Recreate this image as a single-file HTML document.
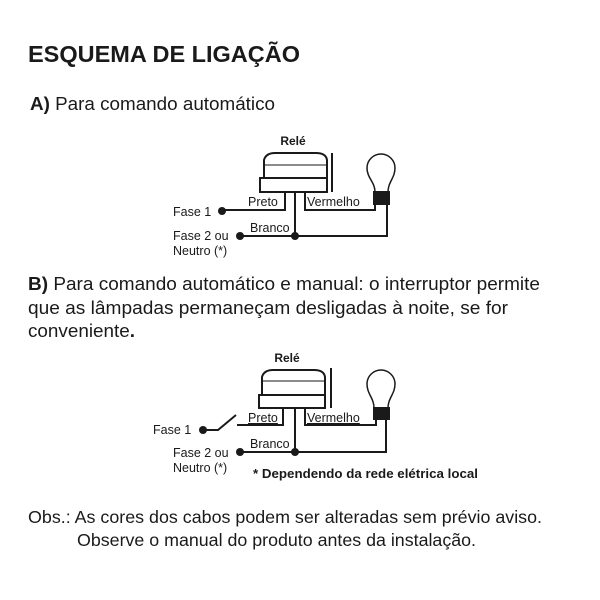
<!DOCTYPE html>
<html><head><meta charset="utf-8"><style>
html,body{margin:0;padding:0;background:#fff;width:600px;height:600px;overflow:hidden}
svg{display:block}
text{font-family:"Liberation Sans",sans-serif;fill:#1a1a1a}
</style></head><body>
<svg width="600" height="600" viewBox="0 0 600 600" xmlns="http://www.w3.org/2000/svg">
<text x="28" y="62" font-size="23.5" font-weight="bold" textLength="272" lengthAdjust="spacingAndGlyphs">ESQUEMA DE LIGAÇÃO</text>
<text x="30" y="110" font-size="18.5" textLength="245" lengthAdjust="spacingAndGlyphs"><tspan font-weight="bold">A)</tspan> Para comando automático</text>

<!-- Diagram A -->
<g stroke="#1a1a1a" stroke-width="2" fill="none">
  <path d="M264 178 L264 160 Q266 153 275 153 L316 153 Q326 153 327 160 L327 178" fill="#fff"/>
  <line x1="265" y1="165" x2="326" y2="165" stroke-width="1"/>
  <rect x="260" y="178" width="67" height="14" fill="#fff"/>
  <line x1="332" y1="153" x2="332" y2="192"/>
  <path d="M285 192 L285 210 L222 210"/>
  <line x1="295" y1="192" x2="295" y2="236"/>
  <path d="M305 192 L305 210 L375 210 L375 204"/>
  <path d="M387 204 L387 236 L240 236"/>
  <path d="M375 192 C375 182 367 178 367 168 A14 14 0 1 1 395 168 C395 178 388 182 388 192" stroke-width="1.5"/>
</g>
<rect x="373" y="191" width="17" height="14" fill="#1a1a1a"/>
<circle cx="222" cy="211" r="4" fill="#1a1a1a"/>
<circle cx="240" cy="236" r="4" fill="#1a1a1a"/>
<circle cx="295" cy="236" r="4" fill="#1a1a1a"/>
<text x="293" y="145" font-size="12" font-weight="bold" text-anchor="middle">Relé</text>
<text x="173" y="216" font-size="12.5">Fase 1</text>
<text x="173" y="240" font-size="12.5">Fase 2 ou</text>
<text x="173" y="255" font-size="12.5">Neutro (*)</text>
<text x="248" y="206" font-size="12.5">Preto</text>
<text x="307" y="206" font-size="12.5">Vermelho</text>
<text x="250" y="232" font-size="12.5">Branco</text>

<text x="28" y="290" font-size="18.5" textLength="512" lengthAdjust="spacingAndGlyphs"><tspan font-weight="bold">B)</tspan> Para comando automático e manual: o interruptor permite</text>
<text x="28" y="314" font-size="18.5" textLength="480" lengthAdjust="spacingAndGlyphs">que as lâmpadas permaneçam desligadas à noite, se for</text>
<text x="28" y="337" font-size="18.5" textLength="107" lengthAdjust="spacingAndGlyphs">conveniente<tspan font-weight="bold">.</tspan></text>

<!-- Diagram B -->
<g stroke="#1a1a1a" stroke-width="2" fill="none">
  <path d="M262 395 L262 377 Q264 370 273 370 L314 370 Q324 370 325 377 L325 395" fill="#fff"/>
  <line x1="263" y1="381" x2="324" y2="381" stroke-width="1"/>
  <rect x="259" y="395" width="66" height="13" fill="#fff"/>
  <line x1="331" y1="368" x2="331" y2="408"/>
  <path d="M203 430 L218 430 L236 415"/>
  <path d="M237 425 L283 425 L283 408"/>
  <line x1="295" y1="408" x2="295" y2="452"/>
  <path d="M305 408 L305 425 L376 425 L376 419"/>
  <path d="M386 419 L386 452 L240 452"/>
  <path d="M374 408 C374 398 367 394 367 384 A14 14 0 1 1 395 384 C395 394 388 398 388 408" stroke-width="1.5"/>
</g>
<rect x="373" y="407" width="17" height="13" fill="#1a1a1a"/>
<circle cx="203" cy="430" r="4" fill="#1a1a1a"/>
<circle cx="240" cy="452" r="4" fill="#1a1a1a"/>
<circle cx="295" cy="452" r="4" fill="#1a1a1a"/>
<text x="287" y="362" font-size="12" font-weight="bold" text-anchor="middle">Relé</text>
<text x="153" y="434" font-size="12.5">Fase 1</text>
<text x="173" y="457" font-size="12.5">Fase 2 ou</text>
<text x="173" y="472" font-size="12.5">Neutro (*)</text>
<text x="248" y="422" font-size="12.5" text-decoration="underline">Preto</text>
<text x="307" y="422" font-size="12.5" text-decoration="underline">Vermelho</text>
<text x="250" y="448" font-size="12.5">Branco</text>
<text x="253" y="478" font-size="13" font-weight="bold" textLength="225" lengthAdjust="spacingAndGlyphs">* Dependendo da rede elétrica local</text>

<text x="28" y="523" font-size="17.8" textLength="514" lengthAdjust="spacingAndGlyphs">Obs.: As cores dos cabos podem ser alteradas sem prévio aviso.</text>
<text x="77" y="546" font-size="17.8" textLength="399" lengthAdjust="spacingAndGlyphs">Observe o manual do produto antes da instalação.</text>
</svg>
</body></html>
